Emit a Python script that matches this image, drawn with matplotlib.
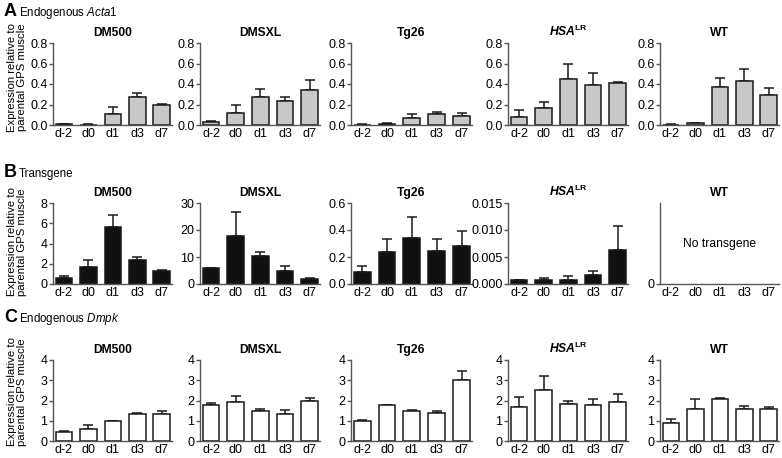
import numpy as np
import matplotlib
matplotlib.use('Agg')
import matplotlib.pyplot as plt

plt.rcParams['font.family'] = ['Liberation Sans', 'DejaVu Sans']
plt.rcParams['mathtext.fontset'] = 'custom'
plt.rcParams['mathtext.rm'] = 'Liberation Sans'
plt.rcParams['mathtext.it'] = 'Liberation Sans:italic'
plt.rcParams['mathtext.bf'] = 'Liberation Sans:bold'
plt.rcParams['mathtext.bfit'] = 'Liberation Sans:italic:bold'

# data
days = ['d-2', 'd0', 'd1', 'd3', 'd7']
strains = ['DM500', 'DMSXL', 'Tg26', r'$\mathbfit{HSA}^{\mathbf{LR}}$', 'WT']

acta1_mean = [[0.005, 0.003, 0.11, 0.27, 0.193],
              [0.026, 0.12, 0.278, 0.235, 0.34],
              [0.003, 0.01, 0.069, 0.108, 0.088],
              [0.082, 0.163, 0.45, 0.39, 0.408],
              [0.003, 0.015, 0.37, 0.428, 0.288]]
acta1_err = [[0.004, 0.002, 0.07, 0.047, 0.008],
             [0.01, 0.08, 0.075, 0.04, 0.10],
             [0.002, 0.005, 0.04, 0.022, 0.026],
             [0.062, 0.059, 0.15, 0.113, 0.012],
             [0.002, 0.007, 0.084, 0.118, 0.075]]

tg_mean = [[0.6, 1.63, 5.65, 2.36, 1.33],
           [5.98, 17.9, 10.2, 4.98, 2.0],
           [0.09, 0.239, 0.342, 0.244, 0.284],
           [0.0008, 0.0007, 0.0007, 0.0016, 0.0063],
           None]
tg_err = [[0.2, 0.76, 1.13, 0.26, 0.03],
          [0.12, 8.6, 1.5, 1.62, 0.1],
          [0.04, 0.091, 0.155, 0.086, 0.106],
          [0.00003, 0.0005, 0.0007, 0.0009, 0.0044],
          None]

dmpk_mean = [[0.43, 0.6, 0.975, 1.34, 1.32],
             [1.77, 1.93, 1.5, 1.32, 1.97],
             [1.01, 1.77, 1.49, 1.40, 2.99],
             [1.69, 2.5, 1.83, 1.77, 1.95],
             [0.89, 1.59, 2.07, 1.59, 1.59]]
dmpk_err = [[0.07, 0.18, 0.015, 0.03, 0.18],
            [0.13, 0.28, 0.09, 0.23, 0.16],
            [0.02, 0.03, 0.05, 0.09, 0.46],
            [0.49, 0.72, 0.17, 0.3, 0.36],
            [0.22, 0.46, 0.05, 0.16, 0.11]]

# y scales per panel
acta1_ticks = [[0, 0.2, 0.4, 0.6, 0.8]] * 5
tg_ticks = [[0, 2, 4, 6, 8], [0, 10, 20, 30], [0, 0.2, 0.4, 0.6],
            [0, 0.005, 0.010, 0.015], [0]]
tg_fmt = ['%d', '%d', '%.1f', '%.3f', '%d']
dmpk_ticks = [[0, 1, 2, 3, 4]] * 5

W, H = 782, 458
fig = plt.figure(figsize=(W / 100, H / 100), dpi=100)

cols = [(53, 172), (200, 320), (351, 472), (508, 628), (660, 779)]
rows = [(43, 125), (203, 284), (360, 441)]
colors = ['#c8c8c8', '#111111', 'white']
spine_c = '#555555'


def make_ax(r, c):
    x0, x1 = cols[c]
    y0, y1 = rows[r]
    ax = fig.add_axes([x0 / W, 1 - y1 / H, (x1 - x0) / W, (y1 - y0) / H])
    for s in ['top', 'right']:
        ax.spines[s].set_visible(False)
    for s in ['left', 'bottom']:
        ax.spines[s].set_color(spine_c)
        ax.spines[s].set_linewidth(1.0)
    ax.tick_params(axis='y', length=3, width=1.0, color=spine_c, pad=1,
                   labelsize=9)
    ax.tick_params(axis='x', length=0, pad=2, labelsize=9)
    ax.set_xticks(range(len(days)))
    ax.set_xticklabels(days)
    ax.set_xlim(-0.45, 4.42)
    ax.set_title(strains[c], fontsize=8.7, fontweight='bold', pad=5)
    return ax


all_means = [acta1_mean, tg_mean, dmpk_mean]
all_errs = [acta1_err, tg_err, dmpk_err]
all_ticks = [acta1_ticks, tg_ticks, dmpk_ticks]
all_fmt = [['%.1f'] * 5, tg_fmt, ['%d'] * 5]

for r in range(3):
    for c in range(5):
        ax = make_ax(r, c)
        ticks = all_ticks[r][c]
        m = all_means[r][c]
        if m is not None:
            e = all_errs[r][c]
            x = np.arange(len(days))
            ax.bar(x, m, width=0.68, color=colors[r], edgecolor='#1a1a1a',
                   linewidth=1.1, zorder=2)
            ax.errorbar(x, m, yerr=[np.zeros(len(m)), e], fmt='none',
                        ecolor='#1a1a1a', elinewidth=1.1, capsize=3.6,
                        capthick=1.1, zorder=1)
            ax.set_ylim(0, ticks[-1])
        else:
            ax.set_ylim(0, 1)
            ax.text(0.5, 0.5, 'No transgene', transform=ax.transAxes,
                    ha='center', va='center', fontsize=8.7)
        ax.set_yticks(ticks)
        ax.set_yticklabels([all_fmt[r][c] % t for t in ticks])

# y labels and panel headers
label = 'Expression relative to\nparental GPS muscle'
for yc in [77, 242, 392]:
    fig.text(17 / W, 1 - yc / H, label, rotation=90, ha='center',
             va='center', fontsize=8.2, linespacing=1.1)

headers = [('A', r'Endogenous $\mathit{Acta1}$', 16),
           ('B', 'Transgene', 177),
           ('C', r'Endogenous $\mathit{Dmpk}$', 322)]
for letter, txt, yb in headers:
    fig.text(4 / W, 1 - yb / H, letter, fontsize=13, fontweight='bold',
             ha='left', va='baseline')
    fig.text(19 / W, 1 - yb / H, txt, fontsize=8.3, ha='left', va='baseline')

fig.savefig('out.png', dpi=100)
